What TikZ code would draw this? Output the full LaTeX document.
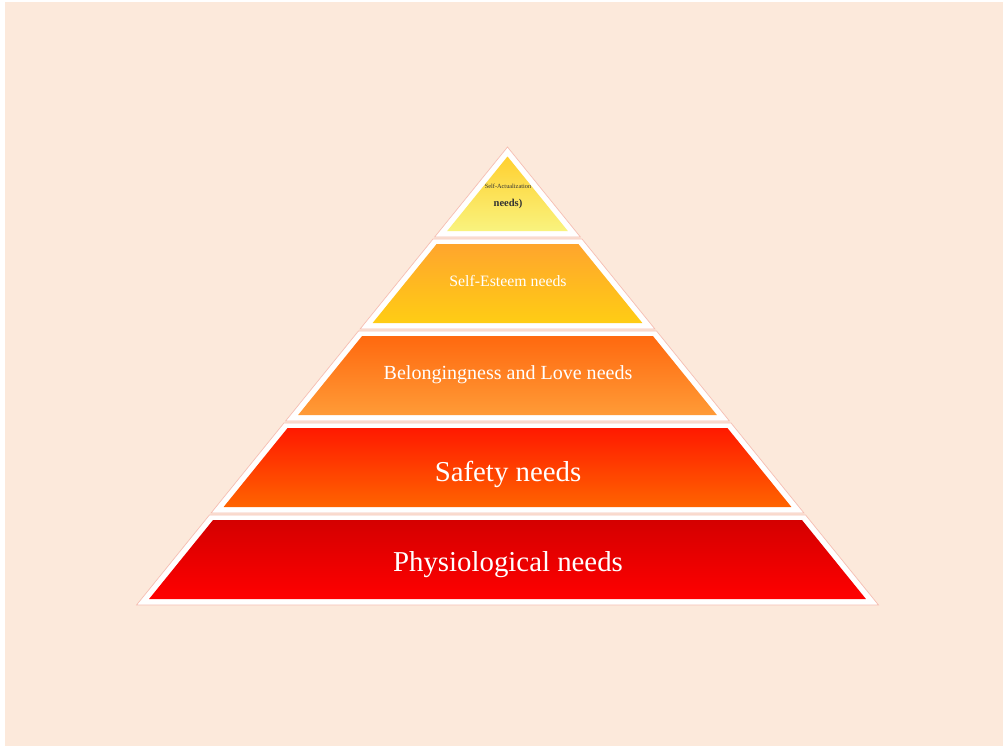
\documentclass[tikz,border=0pt]{standalone}
\usepackage{fontspec}
\setmainfont{Liberation Serif}

\definecolor{bgpeach}{RGB}{252,233,219}
\definecolor{edgepink}{RGB}{246,190,178}
\definecolor{tierAtop}{RGB}{255,208,48}
\definecolor{tierAbot}{RGB}{249,243,126}
\definecolor{tierBtop}{RGB}{255,165,45}
\definecolor{tierBbot}{RGB}{255,205,20}
\definecolor{tierCtop}{RGB}{255,105,15}
\definecolor{tierCbot}{RGB}{255,155,55}
\definecolor{tierDtop}{RGB}{255,25,0}
\definecolor{tierDbot}{RGB}{255,100,0}
\definecolor{tierEtop}{RGB}{212,0,0}
\definecolor{tierEbot}{RGB}{255,0,0}

\begin{document}
\begin{tikzpicture}[
    x=0.02cm, y=0.02cm,
    tierbox/.style={fill=white, draw=edgepink, line width=0.4pt},
    tiertext/.style={text=white, inner sep=0pt},
    darktext/.style={text=black!80, inner sep=0pt}
]
\useasboundingbox (0,0) rectangle (1003,-747);
\fill[bgpeach] (5,-2) rectangle (1003,-746);

% pyramid tiers, top down: white band with a shaded face inside
% (half width grows by 371/458 per unit of height)
\foreach \i/\ctop/\cbot in {0/tierAtop/tierAbot, 1/tierBtop/tierBbot, 2/tierCtop/tierCbot, 3/tierDtop/tierDbot, 4/tierEtop/tierEbot} {
  \pgfmathsetmacro{\yt}{147+92*\i}
  \pgfmathsetmacro{\yb}{\yt+90}
  \pgfmathsetmacro{\wt}{0.81004*(\yt-147)}
  \pgfmathsetmacro{\wb}{0.81004*(\yb-147)}
  \draw[tierbox] (507.5-\wt,-\yt) -- (507.5+\wt,-\yt) -- (507.5+\wb,-\yb) -- (507.5-\wb,-\yb) -- cycle;
  % inner face
  \pgfmathsetmacro{\yit}{max(\yt+5,156.5)}
  \pgfmathsetmacro{\yib}{\yb-6}
  \pgfmathsetmacro{\wit}{max(0,0.81004*(\yit-147)-7.7)}
  \pgfmathsetmacro{\wib}{0.81004*(\yib-147)-7.7}
  \shade[top color=\ctop, bottom color=\cbot] (507.5-\wit,-\yit) -- (507.5+\wit,-\yit) -- (507.5+\wib,-\yib) -- (507.5-\wib,-\yib) -- cycle;
}

% tier labels
\node[darktext, font=\fontsize{3.6}{4}\selectfont] (selfact) at (508,-186) {Self-Actualization};
\node[darktext, font=\bfseries\fontsize{6}{7}\selectfont] (selfactend) at (508,-204) {needs)};
\node[tiertext, font=\fontsize{9}{11}\selectfont] (esteem) at (508,-281) {Self-Esteem needs};
\node[tiertext, font=\fontsize{11.4}{13}\selectfont] (belong) at (508,-375) {Belongingness and Love needs};
\node[tiertext, font=\fontsize{16.4}{19}\selectfont] (safety) at (508,-474) {Safety needs};
\node[tiertext, font=\fontsize{16.4}{19}\selectfont] (physio) at (508,-565) {Physiological needs};
\end{tikzpicture}
\end{document}
